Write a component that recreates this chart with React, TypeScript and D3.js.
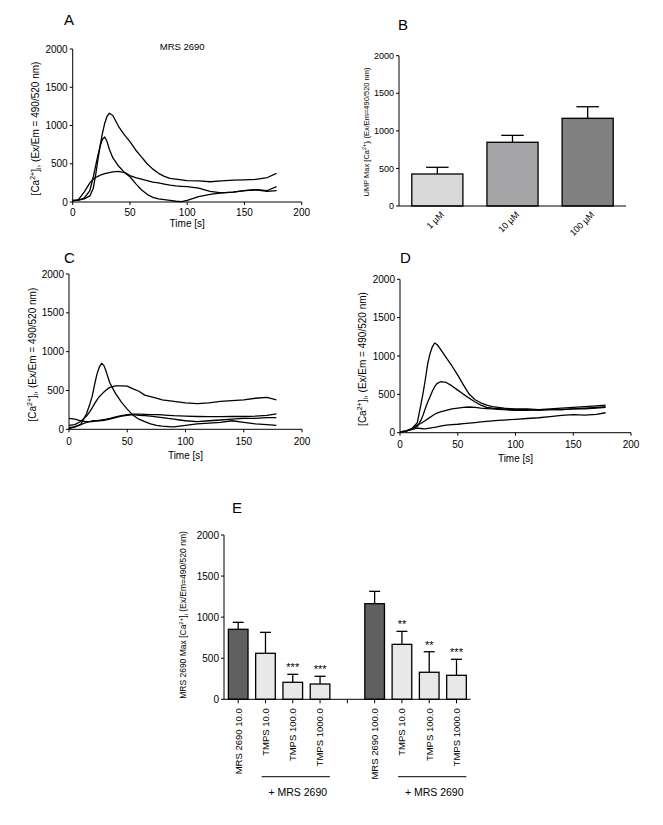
import React from "react";
import * as d3 from "d3";

// ---------- DATA ----------
const TIME = [0, 5, 10, 15, 18, 20, 22, 24, 26, 28, 30, 32, 35, 40, 45, 50, 55, 60, 65, 70, 75, 80, 85, 90, 95, 100, 110, 120, 130, 140, 150, 160, 170, 178];

const traceA1 = [20, 25, 40, 80, 180, 350, 550, 740, 900, 1030, 1120, 1160, 1130, 990, 880, 790, 680, 590, 500, 430, 375, 335, 310, 300, 290, 280, 275, 265, 275, 285, 290, 295, 320, 375];
const traceA2 = [20, 25, 50, 150, 330, 470, 610, 730, 820, 850, 790, 690, 580, 470, 390, 345, 320, 300, 280, 260, 250, 235, 220, 210, 205, 200, 180, 140, 120, 130, 150, 160, 150, 200];
const traceA3 = [10, 30, 130, 250, 300, 320, 335, 350, 360, 370, 378, 385, 395, 400, 385, 330, 240, 160, 100, 60, 40, 30, 20, 10, 5, 20, 70, 100, 120, 130, 150, 160, 140, 150];

const traceC1 = [20, 30, 60, 200, 330, 430, 580, 710, 800, 850, 820, 740, 600, 460, 350, 260, 180, 130, 100, 70, 50, 40, 35, 30, 40, 50, 70, 80, 90, 110, 90, 70, 60, 50];
const traceC2 = [50, 60, 100, 170, 230, 280, 330, 380, 420, 450, 480, 505, 540, 560, 560, 555, 520, 490, 440, 420, 400, 380, 370, 360, 350, 340, 330, 340, 360, 370, 380, 400, 410, 380];
const traceC3 = [140, 130, 110, 100, 100, 100, 105, 110, 115, 120, 125, 130, 140, 160, 175, 190, 195, 195, 193, 190, 188, 185, 180, 175, 172, 170, 165, 163, 163, 165, 165, 170, 180, 200];
const traceC4 = [10, 30, 60, 90, 100, 110, 110, 110, 110, 112, 115, 120, 130, 150, 170, 180, 190, 180, 175, 170, 160, 150, 140, 130, 120, 110, 100, 110, 120, 130, 140, 140, 150, 150];

const traceD1 = [10, 20, 50, 130, 360, 520, 700, 900, 1030, 1120, 1170, 1150, 1090, 980, 870, 750, 620, 500, 430, 390, 360, 340, 330, 320, 315, 310, 310, 300, 310, 320, 330, 340, 350, 360];
const traceD2 = [10, 20, 50, 80, 160, 230, 320, 400, 470, 540, 600, 640, 665, 655, 610, 555, 500, 450, 400, 360, 330, 320, 315, 310, 305, 300, 300, 290, 300, 300, 310, 320, 330, 340];
const traceD3 = [10, 20, 50, 100, 120, 140, 160, 180, 200, 220, 240, 255, 270, 290, 310, 320, 330, 335, 330, 320, 315, 310, 305, 300, 295, 290, 290, 300, 300, 300, 310, 310, 320, 330];
const traceD4 = [10, 20, 40, 60, 55, 50, 50, 55, 60, 65, 70, 75, 85, 100, 105, 110, 118, 125, 132, 140, 148, 155, 160, 165, 170, 175, 185, 195, 210, 225, 235, 230, 240, 260];

const timeTicks = [0, 50, 100, 150, 200];
const valueTicks = [0, 500, 1000, 1500, 2000];

const bCategories = ["1 µM", "10 µM", "100 µM"];
const bValues = [426, 848, 1167];
const bErrors = [89, 92, 154];
const bColors = ["#d9d9d9", "#a6a6a8", "#808080"];

const eCategories = ["MRS 2690 10.0", "TMPS 10.0", "TMPS 100.0", "TMPS 1000.0", "", "MRS 2690 100.0", "TMPS 10.0", "TMPS 100.0", "TMPS 1000.0"];
const eValues = [852, 560, 207, 186, null, 1164, 669, 329, 292];
const eErrors = [85, 255, 97, 94, null, 150, 158, 250, 195];
const eStars = ["", "", "***", "***", "", "", "**", "**", "***"];
const eDark = [true, false, false, false, false, true, false, false, false];
const eGroupLabel = "+ MRS 2690";

const FONT = "Arial, 'Liberation Sans', sans-serif";

function YLabel({ cx, cy, prefix, size }: { cx: number; cy: number; prefix: string; size: number }) {
  const sub = size * 0.7;
  return (
    <text transform={`translate(${cx},${cy}) rotate(-90)`} textAnchor="middle" dy="0.35em" fontSize={size} fontFamily={FONT}>
      {prefix}[Ca
      <tspan dy={-size * 0.35} fontSize={sub}>2+</tspan>
      <tspan dy={size * 0.35}>]</tspan>
      <tspan dy={size * 0.2} fontSize={sub}>i</tspan>
      <tspan dy={-size * 0.2}>{prefix ? " " : ", "}(Ex/Em{prefix ? "=" : " = "}490/520 nm)</tspan>
    </text>
  );
}

function YAxis({ x, scale, fontSize }: { x: number; scale: d3.ScaleLinear<number, number>; fontSize: number }) {
  const [r0, r1] = scale.range();
  return (
    <g>
      <line x1={x} x2={x} y1={r0} y2={r1} stroke="#000" />
      {valueTicks.map((t) => (
        <g key={t}>
          <line x1={x - 3} x2={x} y1={scale(t)} y2={scale(t)} stroke="#000" />
          <text x={x - 5} y={scale(t)} dy="0.35em" textAnchor="end" fontSize={fontSize} fontFamily={FONT}>{t}</text>
        </g>
      ))}
    </g>
  );
}

type TraceProps = {
  x0: number; x1: number; y0: number; y1: number;
  traces: number[][]; letter: string; lx: number; ly: number;
  labOff: number; timeOff: number; yLabX: number; title?: string;
};

function TracePanel(p: TraceProps) {
  const xs = d3.scaleLinear().domain([0, 200]).range([p.x0, p.x1]);
  const ys = d3.scaleLinear().domain([0, 2000]).range([p.y1, p.y0]);
  const line = d3.line<number>().x((_, i) => xs(TIME[i])).y((d) => ys(d));
  return (
    <g>
      <text x={p.lx} y={p.ly} fontSize={15} fontFamily={FONT}>{p.letter}</text>
      {p.title && (
        <text x={(p.x0 + p.x1) / 2 - 5} y={p.y0 + 1} textAnchor="middle" fontSize={9.5} fontFamily={FONT}>{p.title}</text>
      )}
      {p.traces.map((tr, i) => (
        <path key={i} d={line(tr) || ""} fill="none" stroke="#000" strokeWidth={1.3} strokeLinejoin="round" />
      ))}
      <YAxis x={p.x0} scale={ys} fontSize={10} />
      <line x1={p.x0} x2={p.x1} y1={p.y1} y2={p.y1} stroke="#000" />
      {timeTicks.map((t) => (
        <g key={t}>
          <line x1={xs(t)} x2={xs(t)} y1={p.y1} y2={p.y1 + 3} stroke="#000" />
          <text x={xs(t)} y={p.y1 + p.labOff} textAnchor="middle" fontSize={10} fontFamily={FONT}>{t}</text>
        </g>
      ))}
      <text x={(p.x0 + p.x1) / 2} y={p.y1 + p.timeOff} textAnchor="middle" fontSize={10} fontFamily={FONT}>Time [s]</text>
      <YLabel cx={p.yLabX} cy={(p.y0 + p.y1) / 2 + 3} prefix="" size={10} />
    </g>
  );
}

function PanelB() {
  const x0 = 399, x1 = 626, y0 = 55.7, y1 = 206;
  const xb = d3.scaleBand<string>().domain(bCategories).range([x0, x1]).paddingInner(0.32).paddingOuter(0.17);
  const ys = d3.scaleLinear().domain([0, 2000]).range([y1, y0]);
  const bw = xb.bandwidth();
  return (
    <g>
      <text x={398} y={30} fontSize={15} fontFamily={FONT}>B</text>
      {bCategories.map((c, i) => {
        const cx = (xb(c) as number) + bw / 2;
        const top = ys(bValues[i]);
        const et = ys(bValues[i] + bErrors[i]);
        return (
          <g key={c}>
            <line x1={cx} x2={cx} y1={top} y2={et} stroke="#000" strokeWidth={1.3} />
            <line x1={cx - bw * 0.22} x2={cx + bw * 0.22} y1={et} y2={et} stroke="#000" strokeWidth={1.3} />
            <rect x={xb(c)} y={top} width={bw} height={y1 - top} fill={bColors[i]} stroke="#000" strokeWidth={1.3} />
            <text transform={`translate(${cx + 5},${y1 + 7}) rotate(-45)`} textAnchor="end" dy="0.35em" fontSize={9} fontFamily={FONT}>{c}</text>
          </g>
        );
      })}
      <YAxis x={x0} scale={ys} fontSize={9} />
      <line x1={x0} x2={x1} y1={y1} y2={y1} stroke="#000" />
      <YLabel cx={366} cy={132} prefix="UMP Max " size={7.5} />
    </g>
  );
}

function PanelE() {
  const x0 = 224, x1 = 470.7, y0 = 535, y1 = 699.3;
  const idx = d3.range(eCategories.length);
  const xb = d3.scaleBand<number>().domain(idx).range([x0, x1]).paddingInner(0.28).paddingOuter(0.16);
  const ys = d3.scaleLinear().domain([0, 2000]).range([y1, y0]);
  const bw = xb.bandwidth();
  const step = xb.step();
  const groups = [[1, 3], [6, 8]];
  return (
    <g>
      <text x={232} y={513} fontSize={15} fontFamily={FONT}>E</text>
      {idx.map((i) => {
        const left = xb(i) as number;
        const cx = left + bw / 2;
        const v = eValues[i];
        const e = eErrors[i];
        return (
          <g key={i}>
            <line x1={cx} x2={cx} y1={y1} y2={y1 + 4} stroke="#000" />
            {v !== null && e !== null && (
              <g>
                <line x1={cx} x2={cx} y1={ys(v)} y2={ys(v + e)} stroke="#000" strokeWidth={1.3} />
                <line x1={cx - bw * 0.28} x2={cx + bw * 0.28} y1={ys(v + e)} y2={ys(v + e)} stroke="#000" strokeWidth={1.3} />
                <rect x={left} y={ys(v)} width={bw} height={y1 - ys(v)} fill={eDark[i] ? "#606060" : "#e8e8e8"} stroke="#000" strokeWidth={1.3} />
                {eStars[i] && (
                  <text x={cx} y={ys(v + e) - 3} textAnchor="middle" fontSize={11} fontFamily={FONT}>{eStars[i]}</text>
                )}
              </g>
            )}
            {eCategories[i] && (
              <text transform={`translate(${cx},${y1 + 9}) rotate(-90)`} textAnchor="end" dy="0.35em" fontSize={9.5} fontFamily={FONT}>{eCategories[i]}</text>
            )}
          </g>
        );
      })}
      <YAxis x={x0} scale={ys} fontSize={10} />
      <line x1={x0} x2={x1} y1={y1} y2={y1} stroke="#000" />
      {groups.map(([a, b], k) => {
        const s = (xb(a) as number) + bw / 2 - step * 0.14;
        const en = (xb(b) as number) + bw;
        return (
          <g key={k}>
            <line x1={s} x2={en} y1={776.7} y2={776.7} stroke="#000" />
            <text x={(s + en) / 2 + 2} y={796} textAnchor="middle" fontSize={10.5} fontFamily={FONT}>{eGroupLabel}</text>
          </g>
        );
      })}
      <YLabel cx={183} cy={615} prefix="MRS 2690 Max " size={8.5} />
    </g>
  );
}

export default function App() {
  return (
    <svg width={663} height={825} style={{ position: "absolute", left: 0, top: 0, background: "#fff" }}>
      <rect width={663} height={825} fill="#fff" />
      <TracePanel x0={72.7} x1={301.7} y0={49} y1={202} traces={[traceA1, traceA2, traceA3]} letter="A" lx={64} ly={25} labOff={14} timeOff={25} yLabX={35} title="MRS 2690" />
      <PanelB />
      <TracePanel x0={69} x1={302} y0={274} y1={429.3} traces={[traceC1, traceC2, traceC3, traceC4]} letter="C" lx={64} ly={263} labOff={16} timeOff={30} yLabX={32} />
      <TracePanel x0={400} x1={631} y0={279.3} y1={432.7} traces={[traceD1, traceD2, traceD3, traceD4]} letter="D" lx={400} ly={263} labOff={15} timeOff={29} yLabX={362} />
      <PanelE />
    </svg>
  );
}
